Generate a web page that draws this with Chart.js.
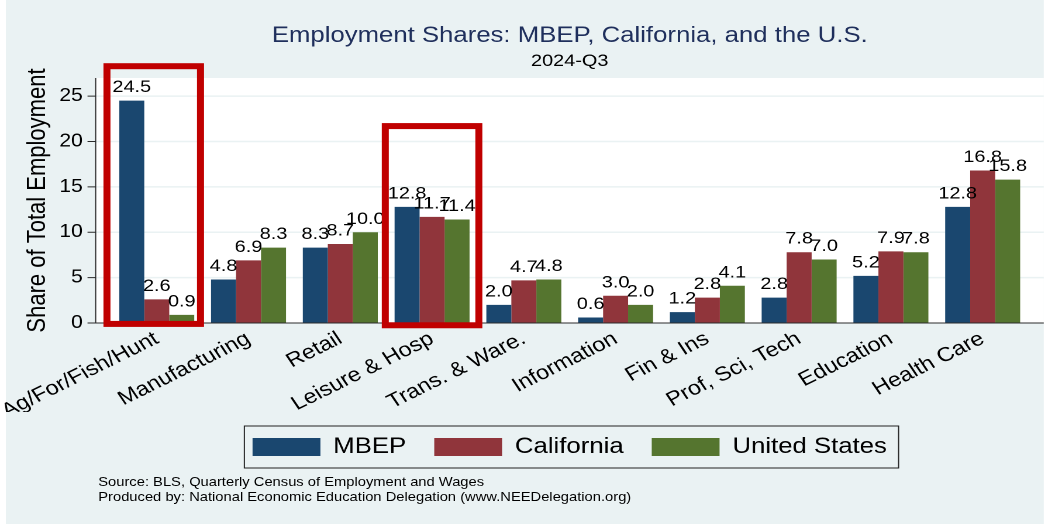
<!DOCTYPE html>
<html>
<head>
<meta charset="utf-8">
<title>Employment Shares</title>
<script src="https://cdn.jsdelivr.net/npm/chart.js@4/dist/chart.umd.min.js"></script>
<style>
  html, body { margin: 0; padding: 0; background: #fff; overflow: hidden; }
  /* the reference is stretched sideways, so draw narrow and widen it */
  #frame { position: relative; width: 896px; height: 527px; transform: scaleX(1.1696); transform-origin: 0 0; }
  #note { position: absolute; left: 84px; top: 475px; font: 12.6px/15px 'Liberation Sans', Arial, sans-serif; color: #000; white-space: nowrap; }
</style>
</head>
<body>
<div id="frame">
  <canvas id="chart"></canvas>
  <div id="note">Source: BLS, Quarterly Census of Employment and Wages<br>Produced by: National Economic Education Delegation (www.NEEDelegation.org)</div>
</div>
<script>
'use strict';

// Data
let categories = ['Ag/For/Fish/Hunt', 'Manufacturing', 'Retail', 'Leisure & Hosp', 'Trans. & Ware.',
  'Information', 'Fin & Ins', 'Prof, Sci, Tech', 'Education', 'Health Care'];
let mbep = [24.5, 4.8, 8.3, 12.8, 2.0, 0.6, 1.2, 2.8, 5.2, 12.8];
let california = [2.6, 6.9, 8.7, 11.7, 4.7, 3.0, 2.8, 7.8, 7.9, 16.8];
let unitedStates = [0.9, 8.3, 10.0, 11.4, 4.8, 2.0, 4.1, 7.0, 7.8, 15.8];
let yTicks = [0, 5, 10, 15, 20, 25];

// Red boxes drawn round two groups (category index, top / bottom in axis units)
let highlights = [
  { index: 0, top: 28.3, bottom: -0.1, shift: -2.6 },
  { index: 3, top: 21.7, bottom: -0.25, shift: 0 }
];

// Colors
const bgColor = '#eaf2f3';
const axisColor = '#2b2b2b';
const font = "'Liberation Sans', Arial, sans-serif";

Chart.defaults.font.family = font;
Chart.defaults.color = '#000';

// Plot region, grid, axes, value labels, boxes
const decor = {
  id: 'decor',
  beforeDraw(chart){
    let {ctx, chartArea: a, scales: {y}} = chart;
    let left = a.left - 13;
    let right = a.right + 13;
    ctx.save();
    ctx.fillStyle = bgColor;
    ctx.fillRect(5, 0, right - 5, 524);
    ctx.fillStyle = '#fff';
    ctx.fillRect(left, a.top, right - left, a.bottom - a.top);
    ctx.strokeStyle = bgColor;
    ctx.lineWidth = 1.5;
    yTicks.forEach(v => {
      if (v === 0) return;
      let py = y.getPixelForValue(v);
      ctx.beginPath();
      ctx.moveTo(left, py);
      ctx.lineTo(right, py);
      ctx.stroke();
    });
    ctx.restore();
  },
  afterDatasetsDraw(chart){
    let {ctx, chartArea: a, scales: {y}} = chart;
    let left = a.left - 13;
    let right = a.right + 13;
    ctx.save();
    // value labels
    ctx.font = '17px ' + font;
    ctx.fillStyle = '#000';
    ctx.textAlign = 'center';
    ctx.textBaseline = 'alphabetic';
    chart.data.datasets.forEach((ds, i) => {
      chart.getDatasetMeta(i).data.forEach((bar, j) => {
        ctx.fillText(ds.data[j].toFixed(1), bar.x, bar.y - 8.5);
      });
    });
    // axes
    ctx.strokeStyle = axisColor;
    ctx.lineWidth = 1;
    ctx.beginPath();
    ctx.moveTo(left, a.top);
    ctx.lineTo(left, a.bottom);
    ctx.moveTo(left, a.bottom);
    ctx.lineTo(right, a.bottom);
    yTicks.forEach(v => {
      let py = y.getPixelForValue(v);
      ctx.moveTo(left - 7, py);
      ctx.lineTo(left, py);
    });
    ctx.stroke();
    ctx.restore();
  },
  afterDraw(chart){
    let {ctx, scales: {x, y}, legend} = chart;
    ctx.save();
    ctx.strokeStyle = '#c00000';
    ctx.lineWidth = 6;
    highlights.forEach(h => {
      let cx = x.getPixelForValue(h.index) + h.shift;
      let top = y.getPixelForValue(h.top);
      let bottom = y.getPixelForValue(h.bottom);
      ctx.strokeRect(cx - 40, top, 80, bottom - top);
    });
    // legend frame
    let boxes = legend.legendHitBoxes;
    if (boxes && boxes.length){
      let first = boxes[0];
      let last = boxes[boxes.length - 1];
      let mid = first.top + first.height / 2;
      ctx.strokeStyle = '#222';
      ctx.lineWidth = 1;
      let l = first.left - 7;
      let r = last.left + last.width + 10;
      ctx.strokeRect(l, mid - 21, r - l, 42);
    }
    ctx.restore();
  }
};

let chartContext = document.getElementById('chart');

new Chart(chartContext, { // eslint-disable-line
  type: 'bar',
  data: {
    labels: categories,
    datasets: [
      { label: 'MBEP', data: mbep, backgroundColor: '#1a476f' },
      { label: 'California', data: california, backgroundColor: '#90353b' },
      { label: 'United States', data: unitedStates, backgroundColor: '#55752f' }
    ]
  },
  options: {
    responsive: true,
    maintainAspectRatio: false,
    devicePixelRatio: 2,
    animation: false,
    events: [],
    layout: { padding: { top: 0, left: 0, right: 16.6, bottom: 59 } },
    datasets: {
      bar: { barPercentage: 1, categoryPercentage: 0.817, borderWidth: 0 }
    },
    scales: {
      x: {
        grid: { display: false, drawTicks: false },
        border: { display: false },
        ticks: { font: { size: 20 }, color: '#000', minRotation: 30, maxRotation: 30, padding: 4, autoSkip: false },
        afterFit(scale){
          scale.height = 89;
          scale.paddingLeft = 0;
          scale.paddingRight = 0;
        }
      },
      y: {
        min: 0,
        max: 27,
        grid: { display: false, drawTicks: false },
        border: { display: false },
        ticks: { font: { size: 18 }, color: '#000', padding: 24, includeBounds: false },
        afterBuildTicks(scale){
          scale.ticks = yTicks.map(v => ({ value: v }));
        },
        title: {
          display: true,
          text: 'Share of Total Employment',
          font: { size: 22 },
          color: '#000',
          padding: { top: 19, bottom: 0 }
        },
        afterFit(scale){
          scale.width = 94.8;
        }
      }
    },
    plugins: {
      title: {
        display: true,
        fullSize: false,
        text: 'Employment Shares: MBEP, California, and the U.S.',
        color: '#1f2f5c',
        font: { size: 22, weight: 'normal' },
        padding: { top: 22.5, bottom: 0 }
      },
      subtitle: {
        display: true,
        fullSize: false,
        text: '2024-Q3',
        color: '#000',
        font: { size: 17 },
        padding: { top: 2, bottom: 6.7 }
      },
      legend: {
        position: 'bottom',
        fullSize: false,
        labels: { font: { size: 22 }, color: '#000', boxWidth: 58, boxHeight: 18, padding: 24 }
      },
      tooltip: { enabled: false }
    }
  },
  plugins: [decor]
});
</script>
</body>
</html>
